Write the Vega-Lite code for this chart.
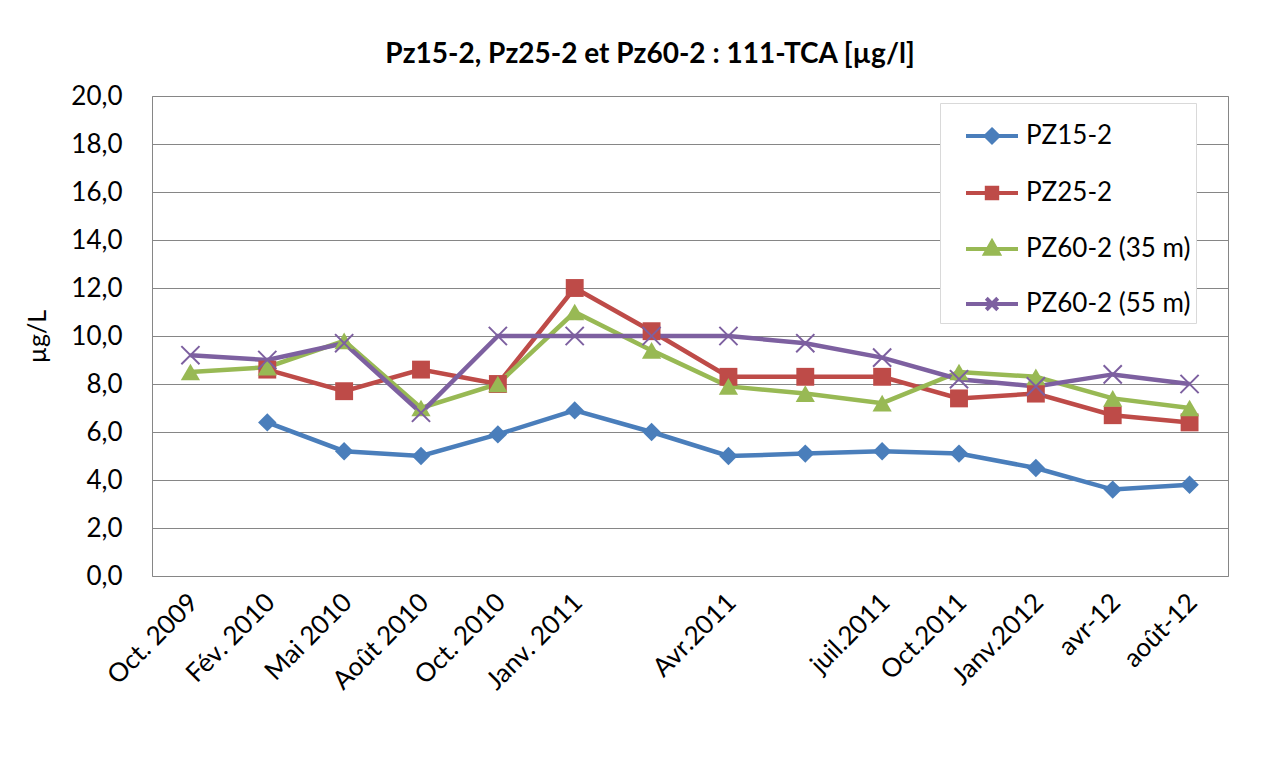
{
  "$schema": "https://vega.github.io/schema/vega-lite/v6.json",
  "width": 1076,
  "height": 480,
  "autosize": {"type": "none"},
  "padding": {"left": 152, "top": 96, "right": 52, "bottom": 186},
  "background": "white",
  "title": {
    "text": "Pz15-2, Pz25-2 et Pz60-2 : 111-TCA [µg/l]",
    "fontSize": 28,
    "fontWeight": "bold",
    "anchor": "middle",
    "dx": -40,
    "offset": 14,
    "color": "black"
  },
  "data": {
    "values": [
      {"serie": "PZ15-2", "periode": "Fév. 2010", "valeur": 6.4},
      {"serie": "PZ15-2", "periode": "Mai 2010", "valeur": 5.2},
      {"serie": "PZ15-2", "periode": "Août 2010", "valeur": 5.0},
      {"serie": "PZ15-2", "periode": "Oct. 2010", "valeur": 5.9},
      {"serie": "PZ15-2", "periode": "Janv. 2011", "valeur": 6.9},
      {"serie": "PZ15-2", "periode": "_1", "valeur": 6.0},
      {"serie": "PZ15-2", "periode": "Avr.2011", "valeur": 5.0},
      {"serie": "PZ15-2", "periode": "_2", "valeur": 5.1},
      {"serie": "PZ15-2", "periode": "juil.2011", "valeur": 5.2},
      {"serie": "PZ15-2", "periode": "Oct.2011", "valeur": 5.1},
      {"serie": "PZ15-2", "periode": "Janv.2012", "valeur": 4.5},
      {"serie": "PZ15-2", "periode": "avr-12", "valeur": 3.6},
      {"serie": "PZ15-2", "periode": "août-12", "valeur": 3.8},
      {"serie": "PZ25-2", "periode": "Fév. 2010", "valeur": 8.6},
      {"serie": "PZ25-2", "periode": "Mai 2010", "valeur": 7.7},
      {"serie": "PZ25-2", "periode": "Août 2010", "valeur": 8.6},
      {"serie": "PZ25-2", "periode": "Oct. 2010", "valeur": 8.0},
      {"serie": "PZ25-2", "periode": "Janv. 2011", "valeur": 12.0},
      {"serie": "PZ25-2", "periode": "_1", "valeur": 10.2},
      {"serie": "PZ25-2", "periode": "Avr.2011", "valeur": 8.3},
      {"serie": "PZ25-2", "periode": "_2", "valeur": 8.3},
      {"serie": "PZ25-2", "periode": "juil.2011", "valeur": 8.3},
      {"serie": "PZ25-2", "periode": "Oct.2011", "valeur": 7.4},
      {"serie": "PZ25-2", "periode": "Janv.2012", "valeur": 7.6},
      {"serie": "PZ25-2", "periode": "avr-12", "valeur": 6.7},
      {"serie": "PZ25-2", "periode": "août-12", "valeur": 6.4},
      {"serie": "PZ60-2 (35 m)", "periode": "Oct. 2009", "valeur": 8.5},
      {"serie": "PZ60-2 (35 m)", "periode": "Fév. 2010", "valeur": 8.7},
      {"serie": "PZ60-2 (35 m)", "periode": "Mai 2010", "valeur": 9.8},
      {"serie": "PZ60-2 (35 m)", "periode": "Août 2010", "valeur": 7.0},
      {"serie": "PZ60-2 (35 m)", "periode": "Oct. 2010", "valeur": 8.0},
      {"serie": "PZ60-2 (35 m)", "periode": "Janv. 2011", "valeur": 11.0},
      {"serie": "PZ60-2 (35 m)", "periode": "_1", "valeur": 9.4},
      {"serie": "PZ60-2 (35 m)", "periode": "Avr.2011", "valeur": 7.9},
      {"serie": "PZ60-2 (35 m)", "periode": "_2", "valeur": 7.6},
      {"serie": "PZ60-2 (35 m)", "periode": "juil.2011", "valeur": 7.2},
      {"serie": "PZ60-2 (35 m)", "periode": "Oct.2011", "valeur": 8.5},
      {"serie": "PZ60-2 (35 m)", "periode": "Janv.2012", "valeur": 8.3},
      {"serie": "PZ60-2 (35 m)", "periode": "avr-12", "valeur": 7.4},
      {"serie": "PZ60-2 (35 m)", "periode": "août-12", "valeur": 7.0},
      {"serie": "PZ60-2 (55 m)", "periode": "Oct. 2009", "valeur": 9.2},
      {"serie": "PZ60-2 (55 m)", "periode": "Fév. 2010", "valeur": 9.0},
      {"serie": "PZ60-2 (55 m)", "periode": "Mai 2010", "valeur": 9.7},
      {"serie": "PZ60-2 (55 m)", "periode": "Août 2010", "valeur": 6.8},
      {"serie": "PZ60-2 (55 m)", "periode": "Oct. 2010", "valeur": 10.0},
      {"serie": "PZ60-2 (55 m)", "periode": "Janv. 2011", "valeur": 10.0},
      {"serie": "PZ60-2 (55 m)", "periode": "_1", "valeur": 10.0},
      {"serie": "PZ60-2 (55 m)", "periode": "Avr.2011", "valeur": 10.0},
      {"serie": "PZ60-2 (55 m)", "periode": "_2", "valeur": 9.7},
      {"serie": "PZ60-2 (55 m)", "periode": "juil.2011", "valeur": 9.1},
      {"serie": "PZ60-2 (55 m)", "periode": "Oct.2011", "valeur": 8.2},
      {"serie": "PZ60-2 (55 m)", "periode": "Janv.2012", "valeur": 7.9},
      {"serie": "PZ60-2 (55 m)", "periode": "avr-12", "valeur": 8.4},
      {"serie": "PZ60-2 (55 m)", "periode": "août-12", "valeur": 8.0}
    ]
  },
  "encoding": {
    "x": {
      "field": "periode",
      "type": "ordinal",
      "sort": ["Oct. 2009", "Fév. 2010", "Mai 2010", "Août 2010", "Oct. 2010", "Janv. 2011", "_1", "Avr.2011", "_2", "juil.2011", "Oct.2011", "Janv.2012", "avr-12", "août-12"],
      "scale": {"type": "point", "padding": 0.5},
      "axis": {
        "title": null,
        "labelAngle": -45,
        "labelAlign": "right",
        "labelBaseline": "middle",
        "labelFontSize": 26,
        "labelPadding": 22,
        "labelOffset": 3,
        "labelColor": "black",
        "labelExpr": "indexof(datum.value, '_') == 0 ? '' : datum.value",
        "ticks": false,
        "domain": false,
        "grid": false,
        "labelOverlap": false
      }
    },
    "y": {
      "field": "valeur",
      "type": "quantitative",
      "scale": {"domain": [0, 20], "nice": false},
      "axis": {
        "title": "µg/L",
        "titleFontSize": 25,
        "titleFontWeight": "normal",
        "titleColor": "black",
        "titlePadding": 20,
        "values": [0, 2, 4, 6, 8, 10, 12, 14, 16, 18, 20],
        "labelExpr": "replace(format(datum.value, '.1f'), '.', ',')",
        "labelFontSize": 26,
        "labelColor": "black",
        "labelPadding": 30,
        "ticks": false,
        "domain": false,
        "grid": true,
        "gridColor": "#868686",
        "gridWidth": 1
      }
    }
  },
  "layer": [
    {
      "mark": {"type": "line", "strokeWidth": 4.5},
      "encoding": {
        "color": {
          "field": "serie",
          "scale": {"range": ["#4A7EBB", "#BE4B48", "#98B954", "#7D60A0"]},
          "legend": null
        }
      }
    },
    {
      "transform": [{"filter": "datum.serie == 'PZ15-2'"}],
      "mark": {"type": "point", "shape": "diamond", "size": 340, "filled": true, "opacity": 1},
      "encoding": {"color": {"field": "serie", "legend": null}}
    },
    {
      "transform": [{"filter": "datum.serie == 'PZ25-2'"}],
      "mark": {"type": "point", "shape": "square", "size": 320, "filled": true, "opacity": 1},
      "encoding": {"color": {"field": "serie", "legend": null}}
    },
    {
      "transform": [{"filter": "datum.serie == 'PZ60-2 (35 m)'"}],
      "mark": {"type": "point", "shape": "triangle-up", "size": 370, "filled": true, "opacity": 1},
      "encoding": {"color": {"field": "serie", "legend": null}}
    },
    {
      "transform": [{"filter": "datum.serie == 'PZ60-2 (55 m)'"}],
      "mark": {"type": "point", "shape": "M-1,-1L1,1M-1,1L1,-1", "size": 330, "filled": false, "strokeWidth": 2, "opacity": 1},
      "encoding": {"color": {"field": "serie", "legend": null}}
    },
    {
      "mark": {"type": "point", "filled": true, "opacity": 0, "strokeWidth": 4},
      "encoding": {
        "fill": {
          "field": "serie",
          "scale": {"domain": ["PZ15-2", "PZ25-2", "PZ60-2 (35 m)", "PZ60-2 (55 m)"], "range": ["#4A7EBB", "#BE4B48", "#98B954", "#7D60A0"]},
          "legend": {"title": null}
        },
        "stroke": {
          "field": "serie",
          "scale": {"domain": ["PZ15-2", "PZ25-2", "PZ60-2 (35 m)", "PZ60-2 (55 m)"], "range": ["#4A7EBB", "#BE4B48", "#98B954", "#7D60A0"]},
          "legend": {"title": null}
        },
        "shape": {
          "field": "serie",
          "scale": {
            "domain": ["PZ15-2", "PZ25-2", "PZ60-2 (35 m)", "PZ60-2 (55 m)"],
            "range": [
              "M-1,0H1M0,-0.24L0.24,0L0,0.24L-0.24,0Z",
              "M-1,0H1M-0.2,-0.2H0.2V0.2H-0.2Z",
              "M-1,0H1M0,-0.28L0.26,0.18H-0.26Z",
              "M-1,0H1M-0.22,-0.22L0.22,0.22M-0.22,0.22L0.22,-0.22"
            ]
          },
          "legend": {"title": null}
        }
      }
    }
  ],
  "config": {
    "font": "Lato",
    "view": {"stroke": "#868686", "strokeWidth": 1},
    "legend": {
      "orient": "none",
      "legendX": 788,
      "legendY": 7,
      "fillColor": "white",
      "strokeColor": "#d9d9d9",
      "padding": 5,
      "symbolSize": 2704,
      "symbolStrokeWidth": 4,
      "symbolOpacity": 1,
      "symbolOffset": 19,
      "labelFontSize": 26,
      "labelColor": "black",
      "labelOffset": 6,
      "rowPadding": 14,
      "labelLimit": 400
    }
  }
}
